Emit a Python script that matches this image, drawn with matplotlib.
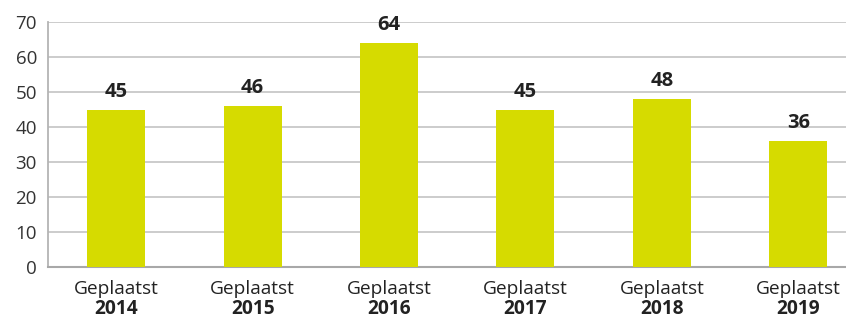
import matplotlib
matplotlib.use("Agg")
from matplotlib import pyplot as plt
from matplotlib import transforms

plt.rcParams['font.family'] = ['Open Sans', 'DejaVu Sans']

years = ['2014', '2015', '2016', '2017', '2018', '2019']
label = 'Geplaatst'
values = [45, 46, 64, 45, 48, 36]

bar_color = '#D6DB00'
text_color = '#222222'

fig = plt.figure(figsize=(8.46, 3.18), dpi=100)
ax = fig.add_axes([48 / 846, 1 - 267 / 318, 1 - 48 / 846, (267 - 22) / 318])

x = list(range(len(years)))
ax.bar(x, values, width=0.425, color=bar_color, zorder=3)

for xi, v in zip(x, values):
    ax.text(xi, v + 2.2, str(v), ha='center', va='bottom', fontsize=14.5,
            fontweight='bold', color=text_color)

ax.set_ylim(0, 70)
ax.set_xlim(-0.5, 5.35)
ax.set_yticks(range(0, 71, 10))
ax.tick_params(axis='y', labelsize=13.5, colors='#333333', length=0, pad=8)
ax.yaxis.grid(True, color='#c8c8c8', linewidth=1.3, zorder=0)

ax.set_xticks(x)
ax.set_xticklabels([label] * len(years), fontsize=13.8, color=text_color)
ax.tick_params(axis='x', length=0, pad=9)

trans = transforms.blended_transform_factory(ax.transData, fig.transFigure)
for xi, yr in zip(x, years):
    ax.text(xi, 1 - 309 / 318, yr, ha='center', va='center', fontsize=13.8,
            fontweight='bold', color=text_color, transform=trans)

for s in ['top', 'right']:
    ax.spines[s].set_visible(False)
ax.spines['left'].set_color('#b4b4b4')
ax.spines['bottom'].set_color('#a8a8a8')
ax.spines['left'].set_linewidth(1.3)
ax.spines['bottom'].set_linewidth(1.5)

fig.savefig('out.png', dpi=100)
